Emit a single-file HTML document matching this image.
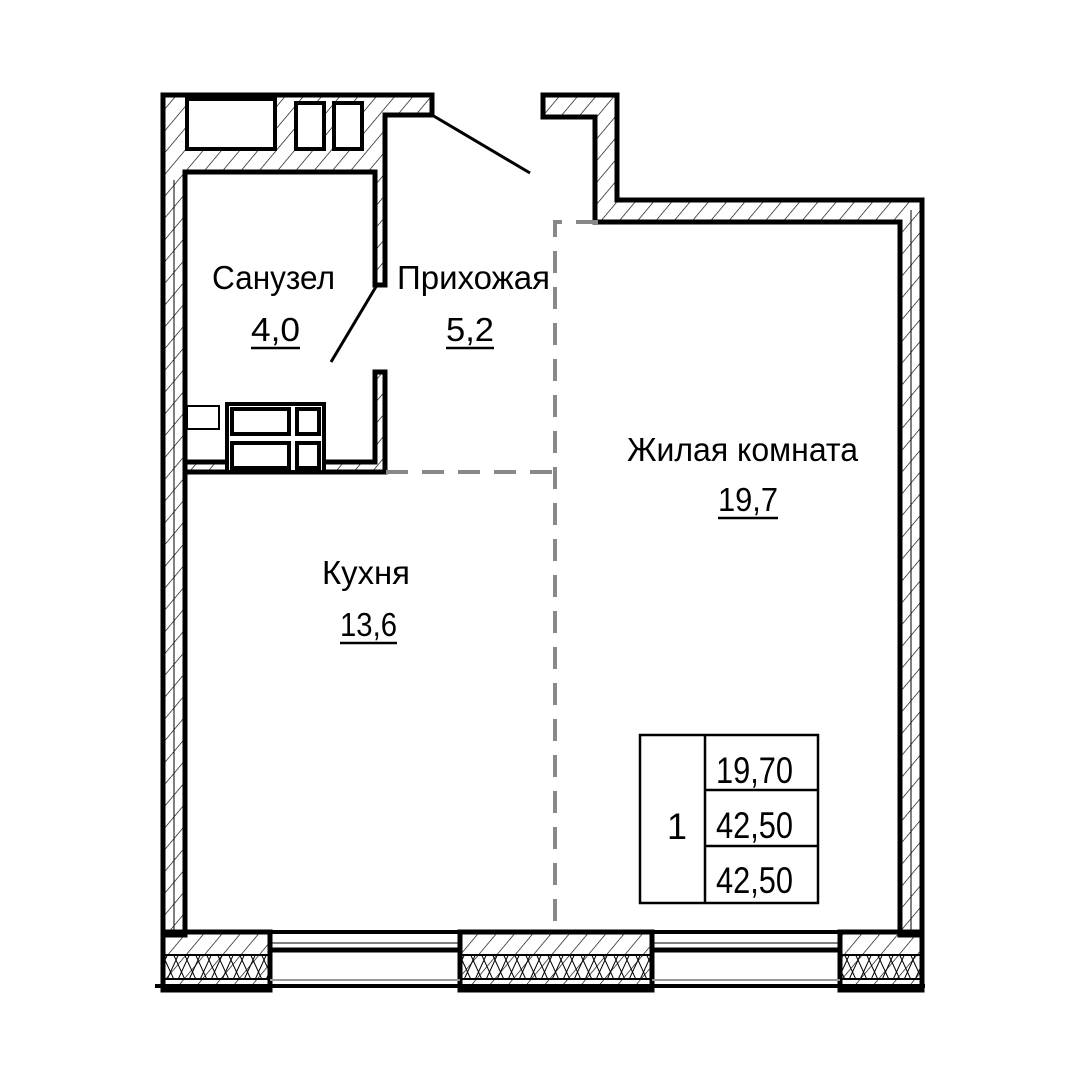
<!DOCTYPE html>
<html><head><meta charset="utf-8"><style>
html,body{margin:0;padding:0;background:#fff;}
svg{display:block}
text{font-family:"Liberation Sans",sans-serif;fill:#000}
</style></head><body>
<svg width="1080" height="1080" viewBox="0 0 1080 1080" xmlns="http://www.w3.org/2000/svg">
<defs>
<pattern id="h" width="14" height="14" patternUnits="userSpaceOnUse" patternTransform="rotate(40)">
<line x1="0" y1="0" x2="0" y2="14" stroke="#000" stroke-width="1.3"/>
</pattern>
<pattern id="x" width="22" height="24" patternUnits="userSpaceOnUse">
<path d="M0 0 L11 24 L22 0 M0 24 L11 0 L22 24" stroke="#000" stroke-width="1" fill="none"/>
</pattern>
</defs>
<rect width="1080" height="1080" fill="#fff"/>
<g stroke="#000" stroke-width="5" fill="url(#h)" stroke-linejoin="miter">
<path d="M163 95 L432 95 L432 115 L385 115 L385 285 L375 285 L375 172 L185 172 L185 935 L163 935 Z"/>
<path d="M375 372 L385 372 L385 472 L185 472 L185 462 L375 462 Z"/>
<path d="M543 95 L617 95 L617 200 L922 200 L922 935 L900 935 L900 222 L595 222 L595 117 L543 117 Z"/>
<path d="M163 932 L270 932 L270 990 L163 990 Z"/>
<path d="M460 932 L652 932 L652 990 L460 990 Z"/>
<path d="M840 932 L922 932 L922 990 L840 990 Z"/>
</g>
<g stroke="#000" stroke-width="4" fill="#fff">
<rect x="187" y="99" width="88" height="50"/>
<rect x="296" y="103" width="28" height="46"/>
<rect x="334" y="103" width="28" height="46"/>
</g>
<g fill="url(#x)" stroke="#000" stroke-width="2">
<rect x="163" y="955" width="107" height="24"/>
<rect x="460" y="955" width="192" height="24"/>
<rect x="840" y="955" width="82" height="24"/>
</g>
<line x1="185" y1="932" x2="900" y2="932" stroke="#000" stroke-width="4"/>
<g stroke="#000">
<line x1="270" y1="950" x2="460" y2="950" stroke-width="5"/>
<line x1="652" y1="950" x2="840" y2="950" stroke-width="5"/>
<line x1="270" y1="980" x2="460" y2="980" stroke="#999" stroke-width="2"/>
<line x1="652" y1="980" x2="840" y2="980" stroke="#999" stroke-width="2"/>
<line x1="155" y1="986" x2="925" y2="986" stroke-width="4"/>
<line x1="270" y1="943" x2="460" y2="943" stroke-width="1"/>
<line x1="652" y1="943" x2="840" y2="943" stroke-width="1"/>
</g>
<line x1="174" y1="180" x2="174" y2="930" stroke="#000" stroke-width="1"/>
<line x1="911" y1="210" x2="911" y2="930" stroke="#000" stroke-width="1"/>
<line x1="432" y1="115" x2="530" y2="173" stroke="#000" stroke-width="3"/>
<line x1="377" y1="285" x2="331" y2="362" stroke="#000" stroke-width="3"/>
<g stroke="#000" fill="#fff">
<rect x="187" y="406" width="32" height="23" stroke-width="2"/>
<rect x="227" y="404" width="97" height="68" stroke-width="4"/>
<rect x="232" y="409" width="57" height="25" stroke-width="4"/>
<rect x="297" y="409" width="22" height="25" stroke-width="4"/>
<rect x="232" y="443" width="57" height="25" stroke-width="4"/>
<rect x="297" y="443" width="22" height="25" stroke-width="4"/>
</g>
<g stroke="#888" stroke-width="4" fill="none" stroke-dasharray="22 14">
<path d="M598 222 L555 222 L555 935"/>
<path d="M386 472 L555 472"/>
</g>
<g font-size="33">
<text x="212" y="289" textLength="123" lengthAdjust="spacingAndGlyphs">Санузел</text>
<text x="251" y="341" textLength="49" lengthAdjust="spacingAndGlyphs">4,0</text>
<text x="397" y="289" textLength="153" lengthAdjust="spacingAndGlyphs">Прихожая</text>
<text x="446" y="341" textLength="48" lengthAdjust="spacingAndGlyphs">5,2</text>
<text x="627" y="461" textLength="231" lengthAdjust="spacingAndGlyphs">Жилая комната</text>
<text x="718" y="511" textLength="60" lengthAdjust="spacingAndGlyphs">19,7</text>
<text x="322" y="584" textLength="88" lengthAdjust="spacingAndGlyphs">Кухня</text>
<text x="340" y="636" textLength="57" lengthAdjust="spacingAndGlyphs">13,6</text>
</g>
<g stroke="#000" stroke-width="2.5">
<line x1="251" y1="348" x2="300" y2="348"/>
<line x1="446" y1="348" x2="494" y2="348"/>
<line x1="718" y1="518" x2="778" y2="518"/>
<line x1="340" y1="643" x2="397" y2="643"/>
</g>
<g stroke="#000" stroke-width="2.5" fill="none">
<rect x="640" y="735" width="178" height="168"/>
<line x1="705" y1="735" x2="705" y2="903"/>
<line x1="705" y1="790" x2="818" y2="790"/>
<line x1="705" y1="846" x2="818" y2="846"/>
</g>
<g font-size="37">
<text x="667" y="839" textLength="20" lengthAdjust="spacingAndGlyphs">1</text>
<text x="716" y="783" textLength="77" lengthAdjust="spacingAndGlyphs">19,70</text>
<text x="716" y="838" textLength="77" lengthAdjust="spacingAndGlyphs">42,50</text>
<text x="716" y="893" textLength="77" lengthAdjust="spacingAndGlyphs">42,50</text>
</g>
</svg>
</body></html>
